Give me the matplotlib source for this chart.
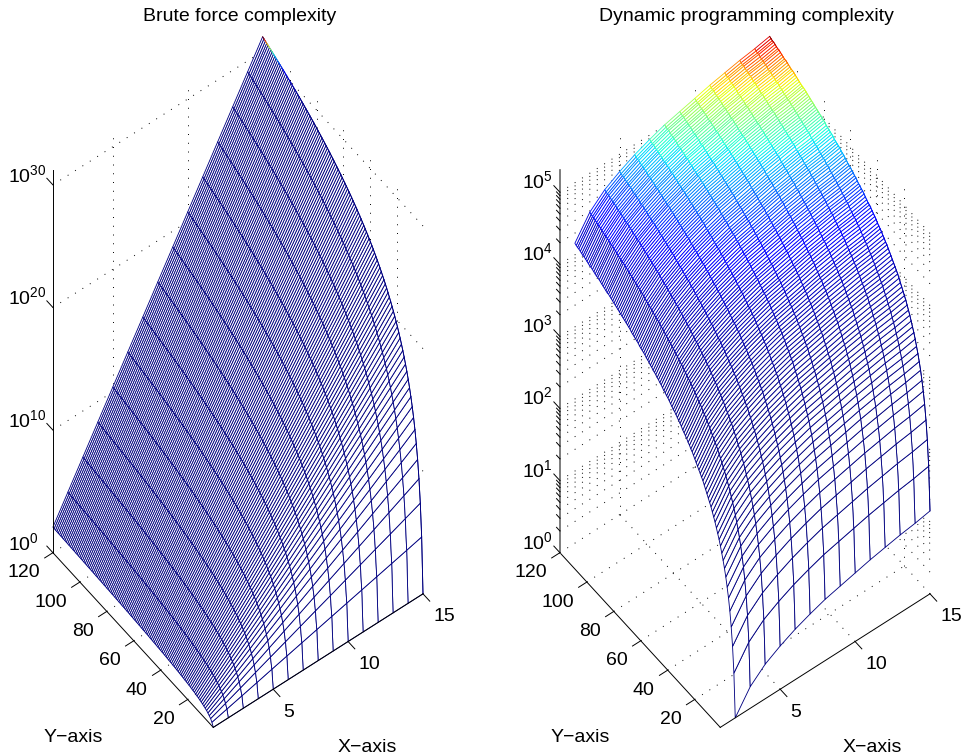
import numpy as np
import matplotlib
matplotlib.use('Agg')
import matplotlib.pyplot as plt
from mpl_toolkits.mplot3d import proj3d

plt.rcParams['font.family'] = ['Liberation Sans', 'DejaVu Sans']
plt.rcParams['mathtext.default'] = 'regular'

W, H = 963, 756

x_brute = [1, 2, 3, 4, 5, 6, 7, 8, 9, 10, 11, 12, 13, 14, 15]
x_dyn = [2, 3, 4, 5, 6, 7, 8, 9, 10, 11, 12, 13, 14, 15]
y_vals = [
    1, 2, 3, 4, 5, 6, 7, 8, 9, 10, 11, 12, 13, 14, 15, 16, 17, 18, 19, 20,
    21, 22, 23, 24, 25, 26, 27, 28, 29, 30, 31, 32, 33, 34, 35, 36, 37, 38, 39, 40,
    41, 42, 43, 44, 45, 46, 47, 48, 49, 50, 51, 52, 53, 54, 55, 56, 57, 58, 59, 60,
    61, 62, 63, 64, 65, 66, 67, 68, 69, 70, 71, 72, 73, 74, 75, 76, 77, 78, 79, 80,
    81, 82, 83, 84, 85, 86, 87, 88, 89, 90, 91, 92, 93, 94, 95, 96, 97, 98, 99, 100,
    101, 102, 103, 104, 105, 106, 107, 108, 109, 110, 111, 112, 113, 114, 115, 116, 117, 118, 119, 120,
]

# brute force surface, log10 of z, one row per y
logz_brute = [
    [0, 0, 0, 0, 0, 0, 0, 0, 0, 0, 0, 0, 0, 0, 0],
    [.30, .60, .90, 1.20, 1.51, 1.81, 2.11, 2.41, 2.71, 3.01, 3.31, 3.61, 3.91, 4.21, 4.52],
    [.48, .95, 1.43, 1.91, 2.39, 2.86, 3.34, 3.82, 4.29, 4.77, 5.25, 5.73, 6.20, 6.68, 7.16],
    [.60, 1.20, 1.81, 2.41, 3.01, 3.61, 4.21, 4.82, 5.42, 6.02, 6.62, 7.22, 7.83, 8.43, 9.03],
    [.70, 1.40, 2.10, 2.80, 3.49, 4.19, 4.89, 5.59, 6.29, 6.99, 7.69, 8.39, 9.09, 9.78, 10.48],
    [.78, 1.56, 2.33, 3.11, 3.89, 4.67, 5.45, 6.23, 7.00, 7.78, 8.56, 9.34, 10.12, 10.89, 11.67],
    [.85, 1.69, 2.54, 3.38, 4.23, 5.07, 5.92, 6.76, 7.61, 8.45, 9.30, 10.14, 10.99, 11.83, 12.68],
    [.90, 1.81, 2.71, 3.61, 4.52, 5.42, 6.32, 7.22, 8.13, 9.03, 9.93, 10.84, 11.74, 12.64, 13.55],
    [.95, 1.91, 2.86, 3.82, 4.77, 5.73, 6.68, 7.63, 8.59, 9.54, 10.50, 11.45, 12.40, 13.36, 14.31],
    [1, 2, 3, 4, 5, 6, 7, 8, 9, 10, 11, 12, 13, 14, 15],
    [1.04, 2.08, 3.12, 4.17, 5.21, 6.25, 7.29, 8.33, 9.37, 10.41, 11.46, 12.50, 13.54, 14.58, 15.62],
    [1.08, 2.16, 3.24, 4.32, 5.40, 6.48, 7.55, 8.63, 9.71, 10.79, 11.87, 12.95, 14.03, 15.11, 16.19],
    [1.11, 2.23, 3.34, 4.46, 5.57, 6.68, 7.80, 8.91, 10.03, 11.14, 12.25, 13.37, 14.48, 15.59, 16.71],
    [1.15, 2.29, 3.44, 4.58, 5.73, 6.88, 8.02, 9.17, 10.31, 11.46, 12.61, 13.75, 14.90, 16.05, 17.19],
    [1.18, 2.35, 3.53, 4.70, 5.88, 7.06, 8.23, 9.41, 10.58, 11.76, 12.94, 14.11, 15.29, 16.47, 17.64],
    [1.20, 2.41, 3.61, 4.82, 6.02, 7.22, 8.43, 9.63, 10.84, 12.04, 13.25, 14.45, 15.65, 16.86, 18.06],
    [1.23, 2.46, 3.69, 4.92, 6.15, 7.38, 8.61, 9.84, 11.07, 12.30, 13.53, 14.76, 16.00, 17.23, 18.46],
    [1.26, 2.51, 3.77, 5.02, 6.28, 7.53, 8.79, 10.04, 11.30, 12.55, 13.81, 15.06, 16.32, 17.57, 18.83],
    [1.28, 2.56, 3.84, 5.12, 6.39, 7.67, 8.95, 10.23, 11.51, 12.79, 14.07, 15.35, 16.62, 17.90, 19.18],
    [1.30, 2.60, 3.90, 5.20, 6.51, 7.81, 9.11, 10.41, 11.71, 13.01, 14.31, 15.61, 16.91, 18.21, 19.52],
    [1.32, 2.64, 3.97, 5.29, 6.61, 7.93, 9.26, 10.58, 11.90, 13.22, 14.54, 15.87, 17.19, 18.51, 19.83],
    [1.34, 2.68, 4.03, 5.37, 6.71, 8.05, 9.40, 10.74, 12.08, 13.42, 14.77, 16.11, 17.45, 18.79, 20.14],
    [1.36, 2.72, 4.09, 5.45, 6.81, 8.17, 9.53, 10.89, 12.26, 13.62, 14.98, 16.34, 17.70, 19.06, 20.43],
    [1.38, 2.76, 4.14, 5.52, 6.90, 8.28, 9.66, 11.04, 12.42, 13.80, 15.18, 16.56, 17.94, 19.32, 20.70],
    [1.40, 2.80, 4.19, 5.59, 6.99, 8.39, 9.79, 11.18, 12.58, 13.98, 15.38, 16.77, 18.17, 19.57, 20.97],
    [1.41, 2.83, 4.24, 5.66, 7.07, 8.49, 9.90, 11.32, 12.73, 14.15, 15.56, 16.98, 18.39, 19.81, 21.22],
    [1.43, 2.86, 4.29, 5.73, 7.16, 8.59, 10.02, 11.45, 12.88, 14.31, 15.75, 17.18, 18.61, 20.04, 21.47],
    [1.45, 2.89, 4.34, 5.79, 7.24, 8.68, 10.13, 11.58, 13.02, 14.47, 15.92, 17.37, 18.81, 20.26, 21.71],
    [1.46, 2.92, 4.39, 5.85, 7.31, 8.77, 10.24, 11.70, 13.16, 14.62, 16.09, 17.55, 19.01, 20.47, 21.94],
    [1.48, 2.95, 4.43, 5.91, 7.39, 8.86, 10.34, 11.82, 13.29, 14.77, 16.25, 17.73, 19.20, 20.68, 22.16],
    [1.49, 2.98, 4.47, 5.97, 7.46, 8.95, 10.44, 11.93, 13.42, 14.91, 16.41, 17.90, 19.39, 20.88, 22.37],
    [1.51, 3.01, 4.52, 6.02, 7.53, 9.03, 10.54, 12.04, 13.55, 15.05, 16.56, 18.06, 19.57, 21.07, 22.58],
    [1.52, 3.04, 4.56, 6.07, 7.59, 9.11, 10.63, 12.15, 13.67, 15.19, 16.70, 18.22, 19.74, 21.26, 22.78],
    [1.53, 3.06, 4.59, 6.13, 7.66, 9.19, 10.72, 12.25, 13.78, 15.32, 16.85, 18.38, 19.91, 21.44, 22.97],
    [1.54, 3.09, 4.63, 6.18, 7.72, 9.26, 10.81, 12.35, 13.90, 15.44, 16.99, 18.53, 20.07, 21.62, 23.16],
    [1.56, 3.11, 4.67, 6.23, 7.78, 9.34, 10.89, 12.45, 14.01, 15.56, 17.12, 18.68, 20.23, 21.79, 23.34],
    [1.57, 3.14, 4.70, 6.27, 7.84, 9.41, 10.98, 12.55, 14.11, 15.68, 17.25, 18.82, 20.39, 21.95, 23.52],
    [1.58, 3.16, 4.74, 6.32, 7.90, 9.48, 11.06, 12.64, 14.22, 15.80, 17.38, 18.96, 20.54, 22.12, 23.70],
    [1.59, 3.18, 4.77, 6.36, 7.96, 9.55, 11.14, 12.73, 14.32, 15.91, 17.50, 19.09, 20.68, 22.28, 23.87],
    [1.60, 3.20, 4.81, 6.41, 8.01, 9.61, 11.21, 12.82, 14.42, 16.02, 17.62, 19.23, 20.83, 22.43, 24.03],
    [1.61, 3.23, 4.84, 6.45, 8.06, 9.68, 11.29, 12.90, 14.52, 16.13, 17.74, 19.35, 20.97, 22.58, 24.19],
    [1.62, 3.25, 4.87, 6.49, 8.12, 9.74, 11.36, 12.99, 14.61, 16.23, 17.86, 19.48, 21.10, 22.72, 24.35],
    [1.63, 3.27, 4.90, 6.53, 8.17, 9.80, 11.43, 13.07, 14.70, 16.33, 17.97, 19.60, 21.24, 22.87, 24.50],
    [1.64, 3.29, 4.93, 6.57, 8.22, 9.86, 11.50, 13.15, 14.79, 16.44, 18.08, 19.72, 21.37, 23.01, 24.65],
    [1.65, 3.31, 4.96, 6.61, 8.27, 9.92, 11.57, 13.23, 14.88, 16.53, 18.19, 19.84, 21.49, 23.14, 24.80],
    [1.66, 3.33, 4.99, 6.65, 8.31, 9.98, 11.64, 13.30, 14.97, 16.63, 18.29, 19.95, 21.62, 23.28, 24.94],
    [1.67, 3.34, 5.02, 6.69, 8.36, 10.03, 11.70, 13.38, 15.05, 16.72, 18.39, 20.07, 21.74, 23.41, 25.08],
    [1.68, 3.36, 5.04, 6.72, 8.41, 10.09, 11.77, 13.45, 15.13, 16.81, 18.49, 20.17, 21.86, 23.54, 25.22],
    [1.69, 3.38, 5.07, 6.76, 8.45, 10.14, 11.83, 13.52, 15.21, 16.90, 18.59, 20.28, 21.97, 23.66, 25.35],
    [1.70, 3.40, 5.10, 6.80, 8.50, 10.19, 11.89, 13.59, 15.29, 16.99, 18.69, 20.39, 22.09, 23.79, 25.49],
    [1.71, 3.42, 5.12, 6.83, 8.54, 10.25, 11.95, 13.66, 15.37, 17.08, 18.78, 20.49, 22.20, 23.91, 25.61],
    [1.72, 3.43, 5.15, 6.86, 8.58, 10.30, 12.01, 13.73, 15.44, 17.16, 18.88, 20.59, 22.31, 24.02, 25.74],
    [1.72, 3.45, 5.17, 6.90, 8.62, 10.35, 12.07, 13.79, 15.52, 17.24, 18.97, 20.69, 22.42, 24.14, 25.86],
    [1.73, 3.46, 5.20, 6.93, 8.66, 10.39, 12.13, 13.86, 15.59, 17.32, 19.06, 20.79, 22.52, 24.25, 25.99],
    [1.74, 3.48, 5.22, 6.96, 8.70, 10.44, 12.18, 13.92, 15.66, 17.40, 19.14, 20.88, 22.63, 24.37, 26.11],
    [1.75, 3.50, 5.24, 6.99, 8.74, 10.49, 12.24, 13.99, 15.73, 17.48, 19.23, 20.98, 22.73, 24.47, 26.22],
    [1.76, 3.51, 5.27, 7.02, 8.78, 10.54, 12.29, 14.05, 15.80, 17.56, 19.31, 21.07, 22.83, 24.58, 26.34],
    [1.76, 3.53, 5.29, 7.05, 8.82, 10.58, 12.34, 14.11, 15.87, 17.63, 19.40, 21.16, 22.92, 24.69, 26.45],
    [1.77, 3.54, 5.31, 7.08, 8.85, 10.63, 12.40, 14.17, 15.94, 17.71, 19.48, 21.25, 23.02, 24.79, 26.56],
    [1.78, 3.56, 5.33, 7.11, 8.89, 10.67, 12.45, 14.23, 16.00, 17.78, 19.56, 21.34, 23.12, 24.89, 26.67],
    [1.79, 3.57, 5.36, 7.14, 8.93, 10.71, 12.50, 14.28, 16.07, 17.85, 19.64, 21.42, 23.21, 24.99, 26.78],
    [1.79, 3.58, 5.38, 7.17, 8.96, 10.75, 12.55, 14.34, 16.13, 17.92, 19.72, 21.51, 23.30, 25.09, 26.89],
    [1.80, 3.60, 5.40, 7.20, 9.00, 10.80, 12.60, 14.39, 16.19, 17.99, 19.79, 21.59, 23.39, 25.19, 26.99],
    [1.81, 3.61, 5.42, 7.22, 9.03, 10.84, 12.64, 14.45, 16.26, 18.06, 19.87, 21.67, 23.48, 25.29, 27.09],
    [1.81, 3.63, 5.44, 7.25, 9.06, 10.88, 12.69, 14.50, 16.32, 18.13, 19.94, 21.75, 23.57, 25.38, 27.19],
    [1.82, 3.64, 5.46, 7.28, 9.10, 10.92, 12.74, 14.56, 16.38, 18.20, 20.01, 21.83, 23.65, 25.47, 27.29],
    [1.83, 3.65, 5.48, 7.30, 9.13, 10.96, 12.78, 14.61, 16.43, 18.26, 20.09, 21.91, 23.74, 25.57, 27.39],
    [1.83, 3.67, 5.50, 7.33, 9.16, 11.00, 12.83, 14.66, 16.49, 18.33, 20.16, 21.99, 23.82, 25.66, 27.49],
    [1.84, 3.68, 5.52, 7.36, 9.19, 11.03, 12.87, 14.71, 16.55, 18.39, 20.23, 22.07, 23.90, 25.74, 27.58],
    [1.85, 3.69, 5.54, 7.38, 9.23, 11.07, 12.92, 14.76, 16.61, 18.45, 20.30, 22.14, 23.99, 25.83, 27.68],
    [1.85, 3.70, 5.55, 7.41, 9.26, 11.11, 12.96, 14.81, 16.66, 18.51, 20.36, 22.22, 24.07, 25.92, 27.77],
    [1.86, 3.71, 5.57, 7.43, 9.29, 11.14, 13.00, 14.86, 16.72, 18.57, 20.43, 22.29, 24.14, 26.00, 27.86],
    [1.86, 3.73, 5.59, 7.45, 9.32, 11.18, 13.04, 14.91, 16.77, 18.63, 20.50, 22.36, 24.22, 26.09, 27.95],
    [1.87, 3.74, 5.61, 7.48, 9.35, 11.22, 13.08, 14.95, 16.82, 18.69, 20.56, 22.43, 24.30, 26.17, 28.04],
    [1.88, 3.75, 5.63, 7.50, 9.38, 11.25, 13.13, 15.00, 16.88, 18.75, 20.63, 22.50, 24.38, 26.25, 28.13],
    [1.88, 3.76, 5.64, 7.52, 9.40, 11.28, 13.17, 15.05, 16.93, 18.81, 20.69, 22.57, 24.45, 26.33, 28.21],
    [1.89, 3.77, 5.66, 7.55, 9.43, 11.32, 13.21, 15.09, 16.98, 18.87, 20.75, 22.64, 24.52, 26.41, 28.30],
    [1.89, 3.78, 5.68, 7.57, 9.46, 11.35, 13.24, 15.14, 17.03, 18.92, 20.81, 22.71, 24.60, 26.49, 28.38],
    [1.90, 3.80, 5.69, 7.59, 9.49, 11.39, 13.28, 15.18, 17.08, 18.98, 20.87, 22.77, 24.67, 26.57, 28.46],
    [1.90, 3.81, 5.71, 7.61, 9.52, 11.42, 13.32, 15.22, 17.13, 19.03, 20.93, 22.84, 24.74, 26.64, 28.55],
    [1.91, 3.82, 5.73, 7.63, 9.54, 11.45, 13.36, 15.27, 17.18, 19.09, 20.99, 22.90, 24.81, 26.72, 28.63],
    [1.91, 3.83, 5.74, 7.66, 9.57, 11.48, 13.40, 15.31, 17.22, 19.14, 21.05, 22.97, 24.88, 26.79, 28.71],
    [1.92, 3.84, 5.76, 7.68, 9.60, 11.51, 13.43, 15.35, 17.27, 19.19, 21.11, 23.03, 24.95, 26.87, 28.79],
    [1.92, 3.85, 5.77, 7.70, 9.62, 11.55, 13.47, 15.39, 17.32, 19.24, 21.17, 23.09, 25.02, 26.94, 28.86],
    [1.93, 3.86, 5.79, 7.72, 9.65, 11.58, 13.50, 15.44, 17.36, 19.29, 21.22, 23.15, 25.08, 27.01, 28.94],
    [1.93, 3.87, 5.80, 7.74, 9.67, 11.61, 13.54, 15.48, 17.41, 19.35, 21.28, 23.21, 25.15, 27.08, 29.02],
    [1.94, 3.88, 5.82, 7.76, 9.70, 11.64, 13.58, 15.52, 17.46, 19.40, 21.33, 23.27, 25.21, 27.15, 29.09],
    [1.94, 3.89, 5.83, 7.78, 9.72, 11.67, 13.61, 15.56, 17.50, 19.45, 21.39, 23.33, 25.28, 27.22, 29.17],
    [1.95, 3.90, 5.85, 7.80, 9.75, 11.70, 13.65, 15.60, 17.54, 19.49, 21.44, 23.39, 25.34, 27.29, 29.24],
    [1.95, 3.91, 5.86, 7.82, 9.77, 11.73, 13.68, 15.63, 17.59, 19.54, 21.50, 23.45, 25.40, 27.36, 29.31],
    [1.96, 3.92, 5.88, 7.84, 9.80, 11.75, 13.71, 15.67, 17.63, 19.59, 21.55, 23.51, 25.47, 27.43, 29.39],
    [1.96, 3.93, 5.89, 7.86, 9.82, 11.78, 13.75, 15.71, 17.67, 19.64, 21.60, 23.57, 25.53, 27.49, 29.46],
    [1.97, 3.94, 5.91, 7.87, 9.84, 11.81, 13.78, 15.75, 17.72, 19.69, 21.65, 23.62, 25.59, 27.56, 29.53],
    [1.97, 3.95, 5.92, 7.89, 9.87, 11.84, 13.81, 15.78, 17.76, 19.73, 21.70, 23.68, 25.65, 27.62, 29.60],
    [1.98, 3.96, 5.93, 7.91, 9.89, 11.87, 13.84, 15.82, 17.80, 19.78, 21.75, 23.73, 25.71, 27.69, 29.67],
    [1.98, 3.96, 5.95, 7.93, 9.91, 11.89, 13.88, 15.86, 17.84, 19.82, 21.81, 23.79, 25.77, 27.75, 29.73],
    [1.99, 3.97, 5.96, 7.95, 9.93, 11.92, 13.91, 15.89, 17.88, 19.87, 21.85, 23.84, 25.83, 27.82, 29.80],
    [1.99, 3.98, 5.97, 7.96, 9.96, 11.95, 13.94, 15.93, 17.92, 19.91, 21.90, 23.89, 25.89, 27.88, 29.87],
    [2.00, 3.99, 5.99, 7.98, 9.98, 11.97, 13.97, 15.96, 17.96, 19.96, 21.95, 23.95, 25.94, 27.94, 29.93],
    [2, 4, 6, 8, 10, 12, 14, 16, 18, 20, 22, 24, 26, 28, 30],
    [2.00, 4.01, 6.01, 8.02, 10.02, 12.03, 14.03, 16.03, 18.04, 20.04, 22.05, 24.05, 26.06, 28.06, 30.06],
    [2.01, 4.02, 6.03, 8.03, 10.04, 12.05, 14.06, 16.07, 18.08, 20.09, 22.09, 24.10, 26.11, 28.12, 30.13],
    [2.01, 4.03, 6.04, 8.05, 10.06, 12.08, 14.09, 16.10, 18.12, 20.13, 22.14, 24.15, 26.17, 28.18, 30.19],
    [2.02, 4.03, 6.05, 8.07, 10.09, 12.10, 14.12, 16.14, 18.15, 20.17, 22.19, 24.20, 26.22, 28.24, 30.26],
    [2.02, 4.04, 6.06, 8.08, 10.11, 12.13, 14.15, 16.17, 18.19, 20.21, 22.23, 24.25, 26.28, 28.30, 30.32],
    [2.03, 4.05, 6.08, 8.10, 10.13, 12.15, 14.18, 16.20, 18.23, 20.25, 22.28, 24.30, 26.33, 28.35, 30.38],
    [2.03, 4.06, 6.09, 8.12, 10.15, 12.18, 14.21, 16.24, 18.26, 20.29, 22.32, 24.35, 26.38, 28.41, 30.44],
    [2.03, 4.07, 6.10, 8.13, 10.17, 12.20, 14.23, 16.27, 18.30, 20.33, 22.37, 24.40, 26.43, 28.47, 30.50],
    [2.04, 4.07, 6.11, 8.15, 10.19, 12.22, 14.26, 16.30, 18.34, 20.37, 22.41, 24.45, 26.49, 28.52, 30.56],
    [2.04, 4.08, 6.12, 8.17, 10.21, 12.25, 14.29, 16.33, 18.37, 20.41, 22.46, 24.50, 26.54, 28.58, 30.62],
    [2.05, 4.09, 6.14, 8.18, 10.23, 12.27, 14.32, 16.36, 18.41, 20.45, 22.50, 24.54, 26.59, 28.63, 30.68],
    [2.05, 4.10, 6.15, 8.20, 10.25, 12.30, 14.34, 16.39, 18.44, 20.49, 22.54, 24.59, 26.64, 28.69, 30.74],
    [2.05, 4.11, 6.16, 8.21, 10.27, 12.32, 14.37, 16.42, 18.48, 20.53, 22.58, 24.64, 26.69, 28.74, 30.80],
    [2.06, 4.11, 6.17, 8.23, 10.28, 12.34, 14.40, 16.46, 18.51, 20.57, 22.63, 24.68, 26.74, 28.80, 30.85],
    [2.06, 4.12, 6.18, 8.24, 10.30, 12.36, 14.42, 16.49, 18.55, 20.61, 22.67, 24.73, 26.79, 28.85, 30.91],
    [2.06, 4.13, 6.19, 8.26, 10.32, 12.39, 14.45, 16.52, 18.58, 20.65, 22.71, 24.77, 26.84, 28.90, 30.97],
    [2.07, 4.14, 6.20, 8.27, 10.34, 12.41, 14.48, 16.55, 18.61, 20.68, 22.75, 24.82, 26.89, 28.95, 31.02],
    [2.07, 4.14, 6.22, 8.29, 10.36, 12.43, 14.50, 16.58, 18.65, 20.72, 22.79, 24.86, 26.93, 29.01, 31.08],
    [2.08, 4.15, 6.23, 8.30, 10.38, 12.45, 14.53, 16.60, 18.68, 20.76, 22.83, 24.91, 26.98, 29.06, 31.13],
    [2.08, 4.16, 6.24, 8.32, 10.40, 12.48, 14.55, 16.63, 18.71, 20.79, 22.87, 24.95, 27.03, 29.11, 31.19],
]

# dynamic programming surface, log10 of z, one row per y
logz_dyn = [
    [0, .30, .48, .60, .70, .78, .85, .90, .95, 1, 1.04, 1.08, 1.11, 1.15],
    [.60, .90, 1.08, 1.20, 1.30, 1.38, 1.45, 1.50, 1.55, 1.60, 1.64, 1.68, 1.71, 1.75],
    [.95, 1.25, 1.43, 1.55, 1.65, 1.73, 1.80, 1.85, 1.90, 1.95, 1.99, 2.03, 2.06, 2.10],
    [1.20, 1.50, 1.68, 1.80, 1.90, 1.98, 2.05, 2.10, 2.15, 2.20, 2.24, 2.28, 2.31, 2.35],
    [1.40, 1.70, 1.88, 2.00, 2.10, 2.18, 2.25, 2.30, 2.35, 2.40, 2.44, 2.48, 2.51, 2.55],
    [1.56, 1.86, 2.04, 2.16, 2.26, 2.34, 2.41, 2.46, 2.51, 2.56, 2.60, 2.64, 2.67, 2.71],
    [1.69, 1.99, 2.17, 2.29, 2.39, 2.47, 2.54, 2.59, 2.64, 2.69, 2.73, 2.77, 2.80, 2.84],
    [1.81, 2.11, 2.29, 2.41, 2.51, 2.59, 2.66, 2.71, 2.76, 2.81, 2.85, 2.89, 2.92, 2.96],
    [1.91, 2.21, 2.39, 2.51, 2.61, 2.69, 2.76, 2.81, 2.86, 2.91, 2.95, 2.99, 3.02, 3.06],
    [2.00, 2.30, 2.48, 2.60, 2.70, 2.78, 2.85, 2.90, 2.95, 3.00, 3.04, 3.08, 3.11, 3.15],
    [2.08, 2.38, 2.56, 2.68, 2.78, 2.86, 2.93, 2.98, 3.03, 3.08, 3.12, 3.16, 3.19, 3.23],
    [2.16, 2.46, 2.64, 2.76, 2.86, 2.94, 3.01, 3.06, 3.11, 3.16, 3.20, 3.24, 3.27, 3.31],
    [2.23, 2.53, 2.71, 2.83, 2.93, 3.01, 3.08, 3.13, 3.18, 3.23, 3.27, 3.31, 3.34, 3.38],
    [2.29, 2.59, 2.77, 2.89, 2.99, 3.07, 3.14, 3.19, 3.24, 3.29, 3.33, 3.37, 3.40, 3.44],
    [2.35, 2.65, 2.83, 2.95, 3.05, 3.13, 3.20, 3.25, 3.30, 3.35, 3.39, 3.43, 3.46, 3.50],
    [2.41, 2.71, 2.89, 3.01, 3.11, 3.19, 3.26, 3.31, 3.36, 3.41, 3.45, 3.49, 3.52, 3.56],
    [2.46, 2.76, 2.94, 3.06, 3.16, 3.24, 3.31, 3.36, 3.41, 3.46, 3.50, 3.54, 3.57, 3.61],
    [2.51, 2.81, 2.99, 3.11, 3.21, 3.29, 3.36, 3.41, 3.46, 3.51, 3.55, 3.59, 3.62, 3.66],
    [2.56, 2.86, 3.04, 3.16, 3.26, 3.34, 3.41, 3.46, 3.51, 3.56, 3.60, 3.64, 3.67, 3.71],
    [2.60, 2.90, 3.08, 3.20, 3.30, 3.38, 3.45, 3.50, 3.55, 3.60, 3.64, 3.68, 3.71, 3.75],
    [2.64, 2.94, 3.12, 3.24, 3.34, 3.42, 3.49, 3.54, 3.59, 3.64, 3.68, 3.72, 3.75, 3.79],
    [2.68, 2.98, 3.16, 3.28, 3.38, 3.46, 3.53, 3.58, 3.63, 3.68, 3.72, 3.76, 3.79, 3.83],
    [2.72, 3.02, 3.20, 3.32, 3.42, 3.50, 3.57, 3.62, 3.67, 3.72, 3.76, 3.80, 3.83, 3.87],
    [2.76, 3.06, 3.24, 3.36, 3.46, 3.54, 3.61, 3.66, 3.71, 3.76, 3.80, 3.84, 3.87, 3.91],
    [2.80, 3.10, 3.28, 3.40, 3.50, 3.58, 3.65, 3.70, 3.75, 3.80, 3.84, 3.88, 3.91, 3.95],
    [2.83, 3.13, 3.31, 3.43, 3.53, 3.61, 3.68, 3.73, 3.78, 3.83, 3.87, 3.91, 3.94, 3.98],
    [2.86, 3.16, 3.34, 3.46, 3.56, 3.64, 3.71, 3.76, 3.81, 3.86, 3.90, 3.94, 3.97, 4.01],
    [2.89, 3.19, 3.37, 3.49, 3.59, 3.67, 3.74, 3.79, 3.84, 3.89, 3.93, 3.97, 4.00, 4.04],
    [2.92, 3.22, 3.40, 3.52, 3.62, 3.70, 3.77, 3.82, 3.87, 3.92, 3.96, 4.00, 4.03, 4.07],
    [2.95, 3.25, 3.43, 3.55, 3.65, 3.73, 3.80, 3.85, 3.90, 3.95, 3.99, 4.03, 4.06, 4.10],
    [2.98, 3.28, 3.46, 3.58, 3.68, 3.76, 3.83, 3.88, 3.93, 3.98, 4.02, 4.06, 4.09, 4.13],
    [3.01, 3.31, 3.49, 3.61, 3.71, 3.79, 3.86, 3.91, 3.96, 4.01, 4.05, 4.09, 4.12, 4.16],
    [3.04, 3.34, 3.52, 3.64, 3.74, 3.82, 3.89, 3.94, 3.99, 4.04, 4.08, 4.12, 4.15, 4.19],
    [3.06, 3.36, 3.54, 3.66, 3.76, 3.84, 3.91, 3.96, 4.01, 4.06, 4.10, 4.14, 4.17, 4.21],
    [3.09, 3.39, 3.57, 3.69, 3.79, 3.87, 3.94, 3.99, 4.04, 4.09, 4.13, 4.17, 4.20, 4.24],
    [3.11, 3.41, 3.59, 3.71, 3.81, 3.89, 3.96, 4.01, 4.06, 4.11, 4.15, 4.19, 4.22, 4.26],
    [3.14, 3.44, 3.62, 3.74, 3.84, 3.92, 3.99, 4.04, 4.09, 4.14, 4.18, 4.22, 4.25, 4.29],
    [3.16, 3.46, 3.64, 3.76, 3.86, 3.94, 4.01, 4.06, 4.11, 4.16, 4.20, 4.24, 4.27, 4.31],
    [3.18, 3.48, 3.66, 3.78, 3.88, 3.96, 4.03, 4.08, 4.13, 4.18, 4.22, 4.26, 4.29, 4.33],
    [3.20, 3.50, 3.68, 3.80, 3.90, 3.98, 4.05, 4.10, 4.15, 4.20, 4.24, 4.28, 4.31, 4.35],
    [3.23, 3.53, 3.71, 3.83, 3.93, 4.01, 4.08, 4.13, 4.18, 4.23, 4.27, 4.31, 4.34, 4.38],
    [3.25, 3.55, 3.73, 3.85, 3.95, 4.03, 4.10, 4.15, 4.20, 4.25, 4.29, 4.33, 4.36, 4.40],
    [3.27, 3.57, 3.75, 3.87, 3.97, 4.05, 4.12, 4.17, 4.22, 4.27, 4.31, 4.35, 4.38, 4.42],
    [3.29, 3.59, 3.77, 3.89, 3.99, 4.07, 4.14, 4.19, 4.24, 4.29, 4.33, 4.37, 4.40, 4.44],
    [3.31, 3.61, 3.79, 3.91, 4.01, 4.09, 4.16, 4.21, 4.26, 4.31, 4.35, 4.39, 4.42, 4.46],
    [3.33, 3.63, 3.81, 3.93, 4.03, 4.11, 4.18, 4.23, 4.28, 4.33, 4.37, 4.41, 4.44, 4.48],
    [3.34, 3.64, 3.82, 3.94, 4.04, 4.12, 4.19, 4.24, 4.29, 4.34, 4.38, 4.42, 4.45, 4.49],
    [3.36, 3.66, 3.84, 3.96, 4.06, 4.14, 4.21, 4.26, 4.31, 4.36, 4.40, 4.44, 4.47, 4.51],
    [3.38, 3.68, 3.86, 3.98, 4.08, 4.16, 4.23, 4.28, 4.33, 4.38, 4.42, 4.46, 4.49, 4.53],
    [3.40, 3.70, 3.88, 4.00, 4.10, 4.18, 4.25, 4.30, 4.35, 4.40, 4.44, 4.48, 4.51, 4.55],
    [3.42, 3.72, 3.90, 4.02, 4.12, 4.20, 4.27, 4.32, 4.37, 4.42, 4.46, 4.50, 4.53, 4.57],
    [3.43, 3.73, 3.91, 4.03, 4.13, 4.21, 4.28, 4.33, 4.38, 4.43, 4.47, 4.51, 4.54, 4.58],
    [3.45, 3.75, 3.93, 4.05, 4.15, 4.23, 4.30, 4.35, 4.40, 4.45, 4.49, 4.53, 4.56, 4.60],
    [3.46, 3.76, 3.94, 4.06, 4.16, 4.24, 4.31, 4.36, 4.41, 4.46, 4.50, 4.54, 4.57, 4.61],
    [3.48, 3.78, 3.96, 4.08, 4.18, 4.26, 4.33, 4.38, 4.43, 4.48, 4.52, 4.56, 4.59, 4.63],
    [3.50, 3.80, 3.98, 4.10, 4.20, 4.28, 4.35, 4.40, 4.45, 4.50, 4.54, 4.58, 4.61, 4.65],
    [3.51, 3.81, 3.99, 4.11, 4.21, 4.29, 4.36, 4.41, 4.46, 4.51, 4.55, 4.59, 4.62, 4.66],
    [3.53, 3.83, 4.01, 4.13, 4.23, 4.31, 4.38, 4.43, 4.48, 4.53, 4.57, 4.61, 4.64, 4.68],
    [3.54, 3.84, 4.02, 4.14, 4.24, 4.32, 4.39, 4.44, 4.49, 4.54, 4.58, 4.62, 4.65, 4.69],
    [3.56, 3.86, 4.04, 4.16, 4.26, 4.34, 4.41, 4.46, 4.51, 4.56, 4.60, 4.64, 4.67, 4.71],
    [3.57, 3.87, 4.05, 4.17, 4.27, 4.35, 4.42, 4.47, 4.52, 4.57, 4.61, 4.65, 4.68, 4.72],
    [3.58, 3.88, 4.06, 4.18, 4.28, 4.36, 4.43, 4.48, 4.53, 4.58, 4.62, 4.66, 4.69, 4.73],
    [3.60, 3.90, 4.08, 4.20, 4.30, 4.38, 4.45, 4.50, 4.55, 4.60, 4.64, 4.68, 4.71, 4.75],
    [3.61, 3.91, 4.09, 4.21, 4.31, 4.39, 4.46, 4.51, 4.56, 4.61, 4.65, 4.69, 4.72, 4.76],
    [3.63, 3.93, 4.11, 4.23, 4.33, 4.41, 4.48, 4.53, 4.58, 4.63, 4.67, 4.71, 4.74, 4.78],
    [3.64, 3.94, 4.12, 4.24, 4.34, 4.42, 4.49, 4.54, 4.59, 4.64, 4.68, 4.72, 4.75, 4.79],
    [3.65, 3.95, 4.13, 4.25, 4.35, 4.43, 4.50, 4.55, 4.60, 4.65, 4.69, 4.73, 4.76, 4.80],
    [3.67, 3.97, 4.15, 4.27, 4.37, 4.45, 4.52, 4.57, 4.62, 4.67, 4.71, 4.75, 4.78, 4.82],
    [3.68, 3.98, 4.16, 4.28, 4.38, 4.46, 4.53, 4.58, 4.63, 4.68, 4.72, 4.76, 4.79, 4.83],
    [3.69, 3.99, 4.17, 4.29, 4.39, 4.47, 4.54, 4.59, 4.64, 4.69, 4.73, 4.77, 4.80, 4.84],
    [3.70, 4.00, 4.18, 4.30, 4.40, 4.48, 4.55, 4.60, 4.65, 4.70, 4.74, 4.78, 4.81, 4.85],
    [3.71, 4.01, 4.19, 4.31, 4.41, 4.49, 4.56, 4.61, 4.66, 4.71, 4.75, 4.79, 4.82, 4.86],
    [3.73, 4.03, 4.21, 4.33, 4.43, 4.51, 4.58, 4.63, 4.68, 4.73, 4.77, 4.81, 4.84, 4.88],
    [3.74, 4.04, 4.22, 4.34, 4.44, 4.52, 4.59, 4.64, 4.69, 4.74, 4.78, 4.82, 4.85, 4.89],
    [3.75, 4.05, 4.23, 4.35, 4.45, 4.53, 4.60, 4.65, 4.70, 4.75, 4.79, 4.83, 4.86, 4.90],
    [3.76, 4.06, 4.24, 4.36, 4.46, 4.54, 4.61, 4.66, 4.71, 4.76, 4.80, 4.84, 4.87, 4.91],
    [3.77, 4.07, 4.25, 4.37, 4.47, 4.55, 4.62, 4.67, 4.72, 4.77, 4.81, 4.85, 4.88, 4.92],
    [3.78, 4.08, 4.26, 4.38, 4.48, 4.56, 4.63, 4.68, 4.73, 4.78, 4.82, 4.86, 4.89, 4.93],
    [3.80, 4.10, 4.28, 4.40, 4.50, 4.58, 4.65, 4.70, 4.75, 4.80, 4.84, 4.88, 4.91, 4.95],
    [3.81, 4.11, 4.29, 4.41, 4.51, 4.59, 4.66, 4.71, 4.76, 4.81, 4.85, 4.89, 4.92, 4.96],
    [3.82, 4.12, 4.30, 4.42, 4.52, 4.60, 4.67, 4.72, 4.77, 4.82, 4.86, 4.90, 4.93, 4.97],
    [3.83, 4.13, 4.31, 4.43, 4.53, 4.61, 4.68, 4.73, 4.78, 4.83, 4.87, 4.91, 4.94, 4.98],
    [3.84, 4.14, 4.32, 4.44, 4.54, 4.62, 4.69, 4.74, 4.79, 4.84, 4.88, 4.92, 4.95, 4.99],
    [3.85, 4.15, 4.33, 4.45, 4.55, 4.63, 4.70, 4.75, 4.80, 4.85, 4.89, 4.93, 4.96, 5.00],
    [3.86, 4.16, 4.34, 4.46, 4.56, 4.64, 4.71, 4.76, 4.81, 4.86, 4.90, 4.94, 4.97, 5.01],
    [3.87, 4.17, 4.35, 4.47, 4.57, 4.65, 4.72, 4.77, 4.82, 4.87, 4.91, 4.95, 4.98, 5.02],
    [3.88, 4.18, 4.36, 4.48, 4.58, 4.66, 4.73, 4.78, 4.83, 4.88, 4.92, 4.96, 4.99, 5.03],
    [3.89, 4.19, 4.37, 4.49, 4.59, 4.67, 4.74, 4.79, 4.84, 4.89, 4.93, 4.97, 5.00, 5.04],
    [3.90, 4.20, 4.38, 4.50, 4.60, 4.68, 4.75, 4.80, 4.85, 4.90, 4.94, 4.98, 5.01, 5.05],
    [3.91, 4.21, 4.39, 4.51, 4.61, 4.69, 4.76, 4.81, 4.86, 4.91, 4.95, 4.99, 5.02, 5.06],
    [3.92, 4.22, 4.40, 4.52, 4.62, 4.70, 4.77, 4.82, 4.87, 4.92, 4.96, 5.00, 5.03, 5.07],
    [3.93, 4.23, 4.41, 4.53, 4.63, 4.71, 4.78, 4.83, 4.88, 4.93, 4.97, 5.01, 5.04, 5.08],
    [3.94, 4.24, 4.42, 4.54, 4.64, 4.72, 4.79, 4.84, 4.89, 4.94, 4.98, 5.02, 5.05, 5.09],
    [3.95, 4.25, 4.43, 4.55, 4.65, 4.73, 4.80, 4.85, 4.90, 4.95, 4.99, 5.03, 5.06, 5.10],
    [3.96, 4.26, 4.44, 4.56, 4.66, 4.74, 4.81, 4.86, 4.91, 4.96, 5.00, 5.04, 5.07, 5.11],
    [3.96, 4.26, 4.44, 4.56, 4.66, 4.74, 4.81, 4.86, 4.91, 4.96, 5.00, 5.04, 5.07, 5.11],
    [3.97, 4.27, 4.45, 4.57, 4.67, 4.75, 4.82, 4.87, 4.92, 4.97, 5.01, 5.05, 5.08, 5.12],
    [3.98, 4.28, 4.46, 4.58, 4.68, 4.76, 4.83, 4.88, 4.93, 4.98, 5.02, 5.06, 5.09, 5.13],
    [3.99, 4.29, 4.47, 4.59, 4.69, 4.77, 4.84, 4.89, 4.94, 4.99, 5.03, 5.07, 5.10, 5.14],
    [4.00, 4.30, 4.48, 4.60, 4.70, 4.78, 4.85, 4.90, 4.95, 5.00, 5.04, 5.08, 5.11, 5.15],
    [4.01, 4.31, 4.49, 4.61, 4.71, 4.79, 4.86, 4.91, 4.96, 5.01, 5.05, 5.09, 5.12, 5.16],
    [4.02, 4.32, 4.50, 4.62, 4.72, 4.80, 4.87, 4.92, 4.97, 5.02, 5.06, 5.10, 5.13, 5.17],
    [4.03, 4.33, 4.51, 4.63, 4.73, 4.81, 4.88, 4.93, 4.98, 5.03, 5.07, 5.11, 5.14, 5.18],
    [4.03, 4.33, 4.51, 4.63, 4.73, 4.81, 4.88, 4.93, 4.98, 5.03, 5.07, 5.11, 5.14, 5.18],
    [4.04, 4.34, 4.52, 4.64, 4.74, 4.82, 4.89, 4.94, 4.99, 5.04, 5.08, 5.12, 5.15, 5.19],
    [4.05, 4.35, 4.53, 4.65, 4.75, 4.83, 4.90, 4.95, 5.00, 5.05, 5.09, 5.13, 5.16, 5.20],
    [4.06, 4.36, 4.54, 4.66, 4.76, 4.84, 4.91, 4.96, 5.01, 5.06, 5.10, 5.14, 5.17, 5.21],
    [4.07, 4.37, 4.55, 4.67, 4.77, 4.85, 4.92, 4.97, 5.02, 5.07, 5.11, 5.15, 5.18, 5.22],
    [4.07, 4.37, 4.55, 4.67, 4.77, 4.85, 4.92, 4.97, 5.02, 5.07, 5.11, 5.15, 5.18, 5.22],
    [4.08, 4.38, 4.56, 4.68, 4.78, 4.86, 4.93, 4.98, 5.03, 5.08, 5.12, 5.16, 5.19, 5.23],
    [4.09, 4.39, 4.57, 4.69, 4.79, 4.87, 4.94, 4.99, 5.04, 5.09, 5.13, 5.17, 5.20, 5.24],
    [4.10, 4.40, 4.58, 4.70, 4.80, 4.88, 4.95, 5.00, 5.05, 5.10, 5.14, 5.18, 5.21, 5.25],
    [4.11, 4.41, 4.59, 4.71, 4.81, 4.89, 4.96, 5.01, 5.06, 5.11, 5.15, 5.19, 5.22, 5.26],
    [4.11, 4.41, 4.59, 4.71, 4.81, 4.89, 4.96, 5.01, 5.06, 5.11, 5.15, 5.19, 5.22, 5.26],
    [4.12, 4.42, 4.60, 4.72, 4.82, 4.90, 4.97, 5.02, 5.07, 5.12, 5.16, 5.20, 5.23, 5.27],
    [4.13, 4.43, 4.61, 4.73, 4.83, 4.91, 4.98, 5.03, 5.08, 5.13, 5.17, 5.21, 5.24, 5.28],
    [4.14, 4.44, 4.62, 4.74, 4.84, 4.92, 4.99, 5.04, 5.09, 5.14, 5.18, 5.22, 5.25, 5.29],
    [4.14, 4.44, 4.62, 4.74, 4.84, 4.92, 4.99, 5.04, 5.09, 5.14, 5.18, 5.22, 5.25, 5.29],
    [4.15, 4.45, 4.63, 4.75, 4.85, 4.93, 5.00, 5.05, 5.10, 5.15, 5.19, 5.23, 5.26, 5.30],
    [4.16, 4.46, 4.64, 4.76, 4.86, 4.94, 5.01, 5.06, 5.11, 5.16, 5.20, 5.24, 5.27, 5.31],
]

x_ticks = [5, 10, 15]
y_ticks = [20, 40, 60, 80, 100, 120]
z_ticks_brute = [0, 10, 20, 30]
z_ticks_dyn = [0, 1, 2, 3, 4, 5]


def make_axes(left):
    size = 762.5
    ax = fig.add_axes([left / W, -17.6 / H, size / W, size / H], projection='3d', proj_type='ortho')
    ax.view_init(elev=56.4, azim=-127.4)
    ax.set_box_aspect((264, 264, 691))
    ax.set_axis_off()
    ax.patch.set_alpha(0)
    ax.computed_zorder = False
    return ax


def put_label(ax, x, y, z, text, dx, dy, ha):
    px, py, _ = proj3d.proj_transform(x, y, z, ax.get_proj())
    ax.annotate(text, xy=(px, py), xytext=(dx, dy), textcoords='offset pixels', ha=ha, va='center',
                fontsize=14, annotation_clip=False)


def draw_panel(ax, x_vals, logz, z_ticks, z_top, minor, z_line):
    ax.set_xlim(1, 15, view_margin=0)
    ax.set_ylim(1, 120, view_margin=0)
    ax.set_zlim(0, z_top, view_margin=0)

    dots = dict(color='k', lw=0.7, ls=(0, (1, 8)), zorder=1)
    # grid on the floor and the two back walls
    for t in x_ticks[:-1]:
        ax.plot([t, t], [1, 120], [0, 0], **dots)
        ax.plot([t, t], [120, 120], [0, z_top], **dots)
    for t in y_ticks[:-1]:
        ax.plot([1, 15], [t, t], [0, 0], **dots)
        ax.plot([15, 15], [t, t], [0, z_top], **dots)
    for t in list(z_ticks) + list(minor):
        ax.plot([1, 15], [120, 120], [t, t], **dots)
        ax.plot([15, 15], [1, 120], [t, t], **dots)

    X, Y = np.meshgrid(x_vals, y_vals)
    Z = np.array(logz)
    surf = ax.plot_surface(X, Y, Z, rstride=1, cstride=1, color='w', shade=False, linewidth=0.62, zorder=2)
    z_lin = 10.0 ** Z
    # each cell takes the colour of its low x, high y corner, as the mesh lines do
    surf.set_edgecolors(plt.cm.jet(z_lin[1:, :-1].ravel() / z_lin.max()))
    # far edge keeps its own colours, this is where the brute force reds show
    for i in range(len(y_vals) - 1):
        ax.plot(X[i:i + 2, -1], Y[i:i + 2, -1], Z[i:i + 2, -1], lw=0.62, zorder=2.5,
                color=plt.cm.jet(z_lin[i + 1, -1] / z_lin.max()))

    line = dict(color='k', lw=0.7, zorder=3)
    ax.plot([1, 15], [1, 1], [0, 0], **line)
    ax.plot([1, 1], [1, 120], [0, 0], **line)
    ax.plot([1, 1], [120, 120], [0, z_top], color=z_line[0], lw=z_line[1], zorder=3)
    for t in x_ticks:
        ax.plot([t, t], [1, -4], [0, 0], **line)
        put_label(ax, t, 1, 0, str(t), 10, -23, 'left')
    for t in y_ticks:
        ax.plot([1, 0.45], [t, t], [0, 0], **line)
        put_label(ax, 1, t, 0, str(t), -13, -20, 'right')
    for t in z_ticks:
        ax.plot([1, 1], [120, 124.5], [t, t], **line)
    for t in minor:
        ax.plot([1, 1], [120, 122.5], [t, t], **line)


fig = plt.figure(figsize=(W / 100, H / 100), dpi=100)

ax1 = make_axes(-153.6)
draw_panel(ax1, x_brute, logz_brute, z_ticks_brute, 31.19, [], ('k', 0.7))
for t in z_ticks_brute:
    px, py, _ = proj3d.proj_transform(1, 120, t, ax1.get_proj())
    ax1.annotate('$10^{%d}$' % t, xy=(px, py), xytext=(-45, 3), textcoords='offset pixels', ha='left', va='baseline',
                 fontsize=14, annotation_clip=False)

minor_dyn = [k + np.log10(m) for k in range(5) for m in range(2, 10)]
ax2 = make_axes(353.4)
draw_panel(ax2, x_dyn, logz_dyn, z_ticks_dyn, 5.305, minor_dyn, ('0.4', 1.2))
for t in z_ticks_dyn:
    px, py, _ = proj3d.proj_transform(1, 120, t, ax2.get_proj())
    ax2.annotate('$10^{%d}$' % t, xy=(px, py), xytext=(-38, 4), textcoords='offset pixels', ha='left', va='baseline',
                 fontsize=14, annotation_clip=False)

fig.text(240 / W, 1 - 21 / H, 'Brute force complexity', ha='center', va='baseline', fontsize=14)
fig.text(746 / W, 1 - 21 / H, 'Dynamic programming complexity', ha='center', va='baseline', fontsize=14)
fig.text(73 / W, 1 - 737 / H, 'Y\u2212axis', ha='center', va='center', fontsize=14)
fig.text(367 / W, 1 - 747 / H, 'X\u2212axis', ha='center', va='center', fontsize=14)
fig.text(580 / W, 1 - 737 / H, 'Y\u2212axis', ha='center', va='center', fontsize=14)
fig.text(872 / W, 1 - 747 / H, 'X\u2212axis', ha='center', va='center', fontsize=14)

fig.savefig('out.png', dpi=100)
